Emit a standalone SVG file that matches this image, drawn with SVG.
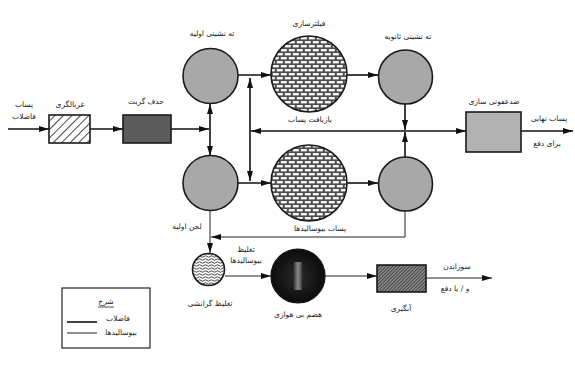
<svg xmlns="http://www.w3.org/2000/svg" width="575" height="367" viewBox="0 0 575 367">
<style>
text{font-family:"DejaVu Sans","Noto Sans",sans-serif;font-size:7.5px;fill:#222;text-anchor:middle}
.ww{stroke:#111;stroke-width:1.6;fill:none}
.bs{stroke:#222;stroke-width:1;fill:none}
.node{stroke:#1a1a1a;stroke-width:1.6}
</style>
<defs>
<marker id="ah" viewBox="0 0 10 6" refX="10" refY="3" markerWidth="10" markerHeight="6" markerUnits="userSpaceOnUse" orient="auto-start-reverse">
<path d="M0,0 L10,3 L0,6 Z" fill="#111"/>
</marker>
<pattern id="brick" width="8" height="8" patternUnits="userSpaceOnUse">
<rect width="8" height="8" fill="#4c4c4c"/>
<rect x="0.8" y="1" width="6" height="2.4" fill="#f4f4f4"/>
<rect x="-3.2" y="5" width="6" height="2.4" fill="#f4f4f4"/>
<rect x="4.8" y="5" width="6" height="2.4" fill="#f4f4f4"/>
</pattern>
<pattern id="hatch" width="6" height="6" patternUnits="userSpaceOnUse" patternTransform="rotate(45)">
<rect width="6" height="6" fill="#fff"/>
<line x1="0" y1="0" x2="0" y2="6" stroke="#333" stroke-width="1.8"/>
</pattern>
<pattern id="dhatch" width="2.4" height="2.4" patternUnits="userSpaceOnUse" patternTransform="rotate(45)">
<rect width="2.4" height="2.4" fill="#888"/>
<line x1="0" y1="0" x2="0" y2="2.4" stroke="#222" stroke-width="1.2"/>
</pattern>
<pattern id="wave" width="6" height="3" patternUnits="userSpaceOnUse">
<rect width="6" height="3" fill="#fafafa"/>
<path d="M0,1.5 Q1.5,0 3,1.5 T6,1.5" stroke="#333" stroke-width="0.9" fill="none"/>
</pattern>
<radialGradient id="dig" cx="0.5" cy="0.5" r="0.5">
<stop offset="0" stop-color="#2a2a2a"/>
<stop offset="1" stop-color="#0c0c0c"/>
</radialGradient>
<linearGradient id="band" x1="0" y1="0" x2="1" y2="0">
<stop offset="0" stop-color="#333"/>
<stop offset="0.5" stop-color="#8a8a8a"/>
<stop offset="1" stop-color="#333"/>
</linearGradient>
</defs>

<g id="connectors">
<line class="ww" x1="8" y1="129" x2="49" y2="129" marker-end="url(#ah)"/>
<line class="ww" x1="90" y1="129" x2="123" y2="129" marker-end="url(#ah)"/>
<line class="ww" x1="171" y1="129" x2="209" y2="129" marker-end="url(#ah)"/>
<line class="ww" x1="210" y1="129" x2="210" y2="104" marker-end="url(#ah)"/>
<line class="ww" x1="210" y1="129" x2="210" y2="156" marker-end="url(#ah)"/>
<line class="ww" x1="238" y1="75" x2="271" y2="75" marker-end="url(#ah)"/>
<line class="ww" x1="238" y1="183" x2="271" y2="183" marker-end="url(#ah)"/>
<line class="ww" x1="250" y1="78" x2="250" y2="181" marker-start="url(#ah)" marker-end="url(#ah)"/>
<line class="ww" x1="405" y1="131" x2="251" y2="131" marker-end="url(#ah)"/>
<line class="ww" x1="405" y1="131" x2="466" y2="131" marker-end="url(#ah)"/>
<line class="ww" x1="405" y1="104" x2="405" y2="130" marker-end="url(#ah)"/>
<line class="ww" x1="405" y1="157" x2="405" y2="132" marker-end="url(#ah)"/>
<line class="ww" x1="347" y1="75" x2="378" y2="75" marker-end="url(#ah)"/>
<line class="ww" x1="347" y1="183" x2="378" y2="183" marker-end="url(#ah)"/>
<line class="ww" x1="521" y1="131" x2="573" y2="131" marker-end="url(#ah)"/>
<polyline class="bs" points="405,211 405,237 211,237" marker-end="url(#ah)"/>
<line class="bs" x1="210" y1="210" x2="210" y2="253" marker-end="url(#ah)"/>
<line class="bs" x1="225" y1="276" x2="271" y2="276" marker-end="url(#ah)"/>
<line class="bs" x1="325" y1="276" x2="377" y2="276" marker-end="url(#ah)"/>
<line class="bs" x1="426" y1="278" x2="492" y2="278" marker-end="url(#ah)"/>
</g>

<g id="input-label">
<text x="24" y="107">پساب</text>
<text x="24" y="119">فاضلاب</text>
</g>
<g id="screening">
<rect class="node" x="49" y="115" width="41" height="28" fill="url(#hatch)"/>
<text x="70" y="107">غربالگری</text>
</g>
<g id="grit-removal">
<rect class="node" x="123" y="115" width="48" height="28" fill="#5c5c5c"/>
<text x="146" y="104">حذف گریت</text>
</g>
<g id="primary-settling-1">
<circle class="node" cx="210.5" cy="76" r="27.5" fill="#a8a8a8"/>
<text x="212" y="36">ته نشینی اولیه</text>
</g>
<g id="primary-settling-2">
<circle class="node" cx="210.5" cy="183" r="27.5" fill="#a8a8a8"/>
</g>
<g id="filter-1">
<circle class="node" cx="309" cy="74" r="38" fill="url(#brick)"/>
<text x="309" y="26">فیلترسازی</text>
</g>
<g id="filter-2">
<circle class="node" cx="309" cy="183" r="38" fill="url(#brick)"/>
</g>
<g id="secondary-settling-1">
<circle class="node" cx="405.5" cy="77" r="27" fill="#a8a8a8"/>
<text x="408" y="39">ته نشینی ثانویه</text>
</g>
<g id="secondary-settling-2">
<circle class="node" cx="405.5" cy="184" r="27" fill="#a8a8a8"/>
</g>
<g id="recycle-label">
<text x="310" y="122">بازیافت پساب</text>
</g>
<g id="disinfection">
<rect class="node" x="466" y="112" width="55" height="40" fill="#b2b2b2"/>
<text x="494" y="104">ضدعفونی سازی</text>
<text x="549" y="121">پساب نهایی</text>
<text x="547" y="146">برای دفع</text>
</g>
<g id="labels-sludge">
<text x="187" y="229">لجن اولیه</text>
<text x="320" y="231">پساب بیوسالیدها</text>
<text x="246" y="252">تغلیظ</text>
<text x="246" y="263">بیوسالیدها</text>
</g>
<g id="gravity-thickener">
<circle class="node" cx="208.5" cy="269.5" r="16" fill="url(#wave)" stroke-width="1.3"/>
<text x="210" y="306">تغلیظ گرانشی</text>
</g>
<g id="anaerobic-digestion">
<circle cx="298" cy="276" r="27" fill="url(#dig)" stroke="#111" stroke-width="1.2"/>
<rect x="293.5" y="262" width="9" height="28" fill="url(#band)"/>
<text x="298" y="317">هضم بی هوازی</text>
</g>
<g id="dewatering">
<rect class="node" x="377" y="265" width="49" height="27" fill="url(#dhatch)"/>
<text x="401" y="311">آبگیری</text>
</g>
<g id="disposal-label">
<text x="457" y="269">سوزاندن</text>
<text x="455" y="291" direction="rtl">و / یا دفع</text>
</g>
<g id="legend">
<rect x="62" y="288" width="88" height="60" fill="#fff" stroke="#222" stroke-width="1.2"/>
<text x="106" y="304" font-size="9">شرح</text>
<line x1="98" y1="307" x2="114" y2="307" stroke="#222" stroke-width="0.8"/>
<line x1="67" y1="322" x2="97" y2="322" stroke="#111" stroke-width="1.6"/>
<line x1="67" y1="333" x2="97" y2="333" stroke="#222" stroke-width="1"/>
<text x="118" y="321">فاضلاب</text>
<text x="121" y="335">بیوسالیدها</text>
</g>
</svg>
